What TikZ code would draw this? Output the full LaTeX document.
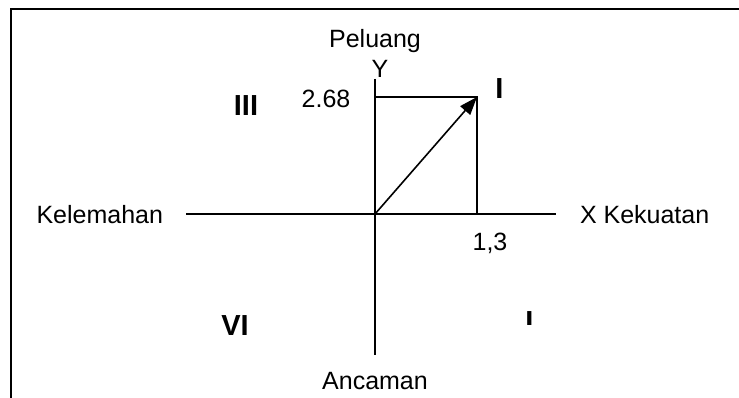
\documentclass[tikz,border=0pt]{standalone}
\usepackage{fontspec}
\setmainfont{Liberation Sans}
\usetikzlibrary{arrows.meta,positioning}

\begin{document}
\begin{tikzpicture}[
  x=1pt, y=-1pt,
  font=\fontsize{25}{29}\selectfont,
  >={Triangle[length=18pt,width=13pt]},
  every node/.style={inner sep=0pt, outer sep=0pt},
  axis/.style={line width=2pt},
  guide/.style={line width=1.6pt},
  quad/.style={font=\fontsize{29}{33}\selectfont\bfseries},
  lbl/.style={}
]
  \useasboundingbox (0,0) rectangle (739,398);

  % Frame (open at right and bottom)
  \draw[line width=2.2pt] (11,398) |- (739,9);

  % Axes
  \coordinate (O) at (375,214);
  \coordinate (ytop) at (375,79);
  \coordinate (ybot) at (375,355);
  \coordinate (xl) at (186,214);
  \coordinate (xr) at (556,214);
  \draw[axis] (ytop) -- (ybot);
  \draw[axis] (xl) -- (xr);

  % Position point and its projections
  \coordinate (P) at (477,97);
  \coordinate (Py) at (375,97);
  \coordinate (Px) at (477,214);
  \draw[guide] (Py) -- (P) -- (Px);
  \draw[guide, ->] (O) -- (P);

  % Axis labels
  \node[lbl, anchor=base] (peluang) at (375,48) {Peluang};
  \node[lbl, anchor=base] (ylab) at (380,78) {Y};
  \node[lbl] (ancaman) at (375,381) {Ancaman};
  \node[lbl, anchor=east] (kelemahan) at (163,215) {Kelemahan};
  \node[lbl, anchor=west] (kekuatan) at (580,215) {X Kekuatan};

  % Values
  \node[lbl] (yval) at (326,99) {2.68};
  \node[lbl] (xval) at (490,243) {1,3};

  % Quadrants
  \node[quad] (q1) at (499.5,89) {I};
  \node[quad] (q3) at (246,106) {III};
  \node[quad] (q6) at (235,326) {VI};
  \begin{scope}
    \clip (510,300) rectangle (550,324);
    \node[quad] (q4) at (529.5,321.5) {I};
  \end{scope}
\end{tikzpicture}
\end{document}
